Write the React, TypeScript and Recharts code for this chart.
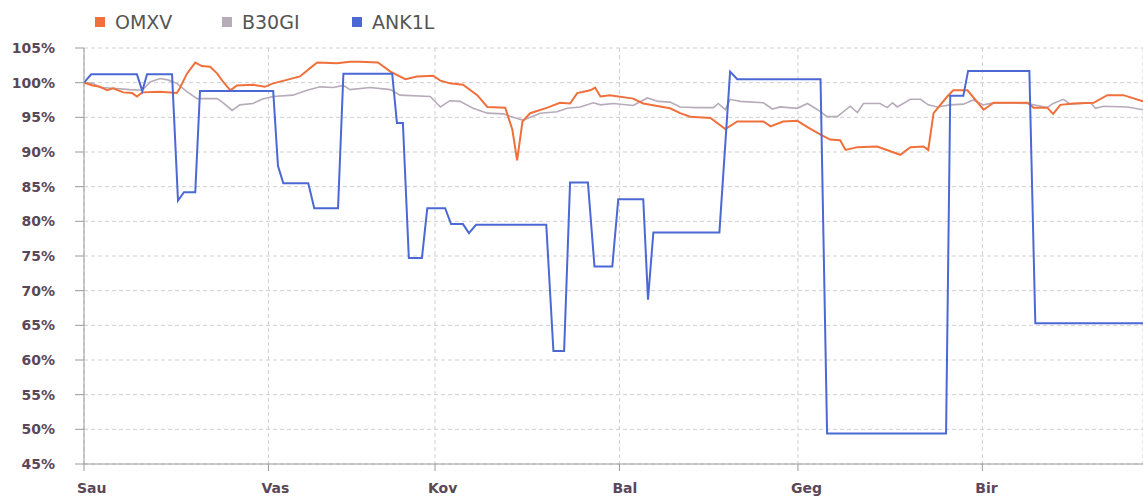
import { LineChart, Line, XAxis, YAxis, CartesianGrid } from "recharts";

// x = day of the half-year (0 = 1st of Sau), y = value in %
const monthTicks = [0, 31, 59, 90, 120, 151];
const monthNames = ["Sau", "Vas", "Kov", "Bal", "Geg", "Bir"];
const pctTicks = [45, 50, 55, 60, 65, 70, 75, 80, 85, 90, 95, 100, 105];

const omxv = [
  [0, 100], [1.5, 99.6], [2.7, 99.4], [3.9, 98.9], [4.9, 99.2], [6.6, 98.6],
  [8.1, 98.5], [8.9, 98.0], [9.8, 98.6], [12.8, 98.7], [15.6, 98.5], [16.1, 99.2],
  [17.3, 101.3], [18.7, 102.9], [19.8, 102.4], [21.2, 102.3], [22.4, 101.3],
  [23.4, 100.1], [24.6, 98.9], [25.7, 99.6], [28.4, 99.7], [30.4, 99.4],
  [31.8, 99.9], [34.1, 100.4], [36.3, 100.9], [38.0, 102.1], [39.2, 102.9],
  [42.5, 102.8], [44.7, 103.0], [46.4, 103.0], [49.4, 102.9], [51.5, 101.6],
  [54.0, 100.5], [56.0, 100.9], [58.7, 101.0], [59.9, 100.3], [61.5, 99.9],
  [63.7, 99.7], [66.1, 98.2], [67.8, 96.5], [70.8, 96.4], [72.0, 93.2],
  [72.8, 88.8], [73.7, 94.4], [75.0, 95.6], [77.9, 96.4], [80.0, 97.1],
  [81.7, 97.0], [82.9, 98.5], [85.1, 98.9], [85.9, 99.3], [86.8, 98.0],
  [88.4, 98.2], [92.3, 97.7], [94.0, 97.0], [98.5, 96.3], [100.2, 95.6],
  [101.9, 95.1], [105.3, 94.9], [107.8, 93.3], [109.8, 94.4], [114.2, 94.4],
  [115.4, 93.7], [117.5, 94.4], [119.9, 94.5], [121.6, 93.6], [123.8, 92.5],
  [125.4, 91.8], [127.1, 91.7], [128.0, 90.3], [130.0, 90.7], [133.3, 90.8],
  [137.2, 89.6], [138.9, 90.7], [141.1, 90.8], [141.9, 90.3], [142.8, 95.6],
  [145.1, 98.0], [146.1, 98.9], [148.5, 98.9], [151.2, 96.1], [152.9, 97.1],
  [158.6, 97.1], [159.6, 96.4], [161.9, 96.4], [162.9, 95.5], [164.1, 96.8],
  [166.3, 97.0], [169.7, 97.1], [172.0, 98.2], [174.7, 98.2], [178, 97.3],
];

const b30gi = [
  [0, 100], [1.5, 99.9], [2.7, 99.3], [4.9, 99.2], [7.7, 99.0], [9.8, 98.9],
  [11.1, 100.1], [12.8, 100.6], [14.1, 100.4], [15.6, 99.9], [17.3, 98.7],
  [19.0, 97.7], [22.4, 97.7], [23.4, 97.1], [24.9, 96.0], [26.2, 96.8],
  [28.4, 97.0], [29.9, 97.6], [31.8, 98.0], [35.1, 98.2], [37.5, 98.9],
  [39.7, 99.4], [41.9, 99.3], [43.6, 99.6], [44.7, 99.0], [48.1, 99.3],
  [51.5, 99.0], [53.1, 98.2], [58.2, 98.0], [59.9, 96.5], [61.5, 97.4],
  [63.2, 97.3], [65.4, 96.3], [67.8, 95.6], [70.5, 95.5], [72.1, 95.0],
  [73.8, 94.6], [76.7, 95.6], [79.5, 95.8], [81.2, 96.3], [83.4, 96.5],
  [85.6, 97.1], [86.8, 96.8], [89.0, 97.0], [92.3, 96.7], [94.7, 97.8],
  [96.5, 97.3], [98.5, 97.2], [100.2, 96.5], [103.1, 96.4], [105.8, 96.4],
  [106.6, 97.0], [107.8, 96.1], [108.6, 97.6], [110.3, 97.3], [114.2, 97.1],
  [115.7, 96.2], [117.0, 96.5], [119.9, 96.3], [121.6, 97.0], [123.3, 96.1],
  [124.9, 95.1], [126.6, 95.1], [128.8, 96.6], [130.0, 95.7], [131.0, 97.0],
  [133.8, 97.0], [135.0, 96.4], [135.9, 97.1], [136.7, 96.5], [138.9, 97.6],
  [140.6, 97.6], [141.9, 96.8], [143.4, 96.5], [145.6, 96.8], [147.8, 96.9],
  [149.5, 97.5], [151.2, 96.8], [152.9, 97.1], [158.6, 97.0], [161.9, 96.4],
  [162.9, 97.0], [164.6, 97.6], [165.8, 96.9], [169.2, 97.1], [170.0, 96.3],
  [171.4, 96.6], [175.4, 96.5], [178, 96.1],
];

const ank1l = [
  [0, 100], [1.2, 101.2], [8.9, 101.2], [9.8, 98.8], [10.6, 101.2], [14.8, 101.2],
  [15.8, 83.0], [16.8, 84.2], [18.7, 84.2], [19.5, 98.8], [31.8, 98.8],
  [32.6, 88.0], [33.5, 85.5], [37.7, 85.5], [38.7, 81.9], [42.7, 81.9],
  [43.6, 101.3], [51.8, 101.3], [52.6, 94.2], [53.6, 94.2], [54.6, 74.7],
  [56.8, 74.7], [57.7, 81.9], [60.7, 81.9], [61.7, 79.6], [63.7, 79.6],
  [64.7, 78.3], [65.9, 79.5], [77.7, 79.5], [78.9, 61.3], [80.7, 61.3],
  [81.7, 85.6], [84.7, 85.6], [85.8, 73.5], [88.8, 73.5], [89.8, 83.2],
  [94.0, 83.2], [94.8, 68.7], [95.7, 78.4], [106.8, 78.4], [108.6, 101.6],
  [109.8, 100.5], [123.8, 100.5], [124.9, 49.4], [144.9, 49.4], [145.6, 98.1],
  [147.8, 98.1], [148.6, 101.7], [158.9, 101.7], [159.9, 65.3], [178, 65.3],
];

const toRows = (pts: number[][]) => pts.map(([d, v]) => ({ d, v }));

const series = [
  { name: "B30GI", color: "#b7abba", width: 1.6, data: toRows(b30gi) },
  { name: "OMXV", color: "#f0703c", width: 2, data: toRows(omxv) },
  { name: "ANK1L", color: "#4b68d4", width: 2, data: toRows(ank1l) },
];
const legendOrder = ["OMXV", "B30GI", "ANK1L"];
const legendX = [95, 222, 352];

const labelColor = "#5a4858";

function MonthTick(props: any) {
  const { x, y, payload } = props;
  const i = monthTicks.indexOf(payload.value);
  return (
    <text
      x={x - 7}
      y={y + 20}
      textAnchor="start"
      fontSize={14}
      fontWeight="bold"
      fill={labelColor}
      fontFamily="DejaVu Sans"
    >
      {monthNames[i]}
    </text>
  );
}

export default function App() {
  return (
    <div
      style={{
        position: "absolute",
        left: 0,
        top: 0,
        width: 1143,
        height: 499,
        background: "#fff",
        fontFamily: "DejaVu Sans, sans-serif",
      }}
    >
      <div style={{ position: "absolute", top: 11, left: 0, height: 24 }}>
        {legendOrder.map((n, i) => {
          const s = series.find((q) => q.name === n)!;
          return (
            <div
              key={n}
              style={{
                position: "absolute",
                left: legendX[i],
                top: 0,
                display: "flex",
                alignItems: "center",
                whiteSpace: "nowrap",
              }}
            >
              <span
                style={{
                  width: 10,
                  height: 10,
                  background: s.color,
                  display: "inline-block",
                  marginRight: 10,
                }}
              />
              <span style={{ fontSize: 19, color: "#555" }}>{n}</span>
            </div>
          );
        })}
      </div>
      <LineChart
        width={1143}
        height={499}
        margin={{ top: 48, right: 0, left: 0, bottom: 0 }}
      >
        <CartesianGrid stroke="#cfcfcf" strokeDasharray="4 3" />
        <XAxis
          type="number"
          dataKey="d"
          domain={[0, 178]}
          ticks={monthTicks}
          allowDataOverflow
          height={35}
          tickSize={7}
          stroke="#9a9a9a"
          tick={<MonthTick />}
        />
        <YAxis
          type="number"
          dataKey="v"
          domain={[45, 105]}
          ticks={pctTicks}
          interval={0}
          width={84}
          tickSize={9}
          tickMargin={20}
          stroke="#9a9a9a"
          tickFormatter={(v) => `${v}%`}
          tick={{
            fontSize: 14,
            fontWeight: "bold",
            fill: labelColor,
            fontFamily: "DejaVu Sans",
          }}
        />
        {series.map((s) => (
          <Line
            key={s.name}
            name={s.name}
            data={s.data}
            dataKey="v"
            type="linear"
            stroke={s.color}
            strokeWidth={s.width}
            dot={false}
            isAnimationActive={false}
          />
        ))}
      </LineChart>
    </div>
  );
}
